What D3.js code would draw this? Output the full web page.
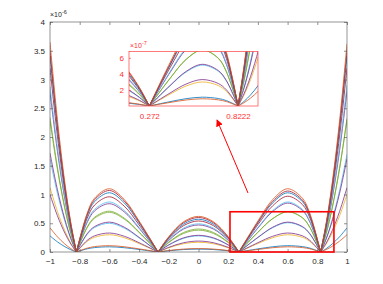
<!DOCTYPE html>
<html>
<head>
<meta charset="utf-8">
<script src="https://cdn.jsdelivr.net/npm/d3@7"></script>
<style>
  body { margin: 0; background: #fff; }
  text { font-family: "Liberation Sans", Arial, sans-serif; }
</style>
</head>
<body>
<div id="chart"></div>
<script>
const width = 383;
const height = 284;

// tick values
const xTicks = [-1, -0.8, -0.6, -0.4, -0.2, 0, 0.2, 0.4, 0.6, 0.8, 1];
const yTicks = [0, 0.5, 1, 1.5, 2, 2.5, 3, 3.5, 4];
const insetYTicks = [2, 4, 6];
const insetXTicks = [0.272, 0.8222];

// curve colours (matlab palette)
const curveColors = ['#0072BD', '#D95319', '#EDB120', '#7E2F8E', '#4DBEEE', '#7E2F8E', '#77AC30',
  '#77AC30', '#7E2F8E', '#4DBEEE', '#A2142F', '#0072BD', '#A2142F', '#D95319'];

// peak values of each curve (x 1e-6)
const leftEnd   = [0.28, 0.42, 1.12, 1.00, 1.62, 1.72, 2.28, 2.34, 2.78, 2.88, 3.20, 3.40, 3.50, 3.65];
const leftHump  = [0.09, 0.11, 0.30, 0.33, 0.50, 0.52, 0.69, 0.71, 0.84, 0.87, 0.96, 1.03, 1.07, 1.10];
const centerHump= [0.05, 0.06, 0.17, 0.19, 0.28, 0.29, 0.38, 0.40, 0.47, 0.49, 0.54, 0.57, 0.60, 0.62];
const rightHump = [0.11, 0.09, 0.30, 0.33, 0.51, 0.52, 0.70, 0.70, 0.85, 0.87, 0.97, 1.03, 1.06, 1.10];
const rightEnd  = [0.42, 0.30, 1.00, 1.12, 1.70, 1.62, 2.32, 2.30, 2.80, 2.90, 3.20, 3.40, 3.50, 3.62];

// shape of each lobe, relative to its peak (top curve)
const endShapeX  = [-1, -0.95, -0.9, -0.86, -0.8222];
const endShapeY  = [1, 0.63, 0.33, 0.14, 0];
const sideShapeX = [-0.8222, -0.75, -0.7, -0.6, -0.5, -0.4, -0.272];
const sideShapeY = [0, 0.61, 0.85, 1, 0.83, 0.49, 0];
const midShapeX  = [-0.272, -0.2, -0.1, 0, 0.1, 0.2, 0.272];
const midShapeY  = [0, 0.43, 0.85, 1, 0.85, 0.43, 0];

// zoom box and arrow
const zoomBox = {x0: 0.212, x1: 0.912, y0: 0, y1: 0.70};

const svg = d3.select("#chart").append("svg")
    .attr("width", width)
    .attr("height", height);

const x = d3.scaleLinear().domain([-1, 1]).range([50, 347]);
const y = d3.scaleLinear().domain([0, 4]).range([252, 22]);

const axisColor = "#4d4d4d";
const textColor = "#262626";

// build lobes of every curve
function lobes(i) {
    const segs = [];
    segs.push(endShapeX.map((v, k) => [v, endShapeY[k] * leftEnd[i]]));
    segs.push(sideShapeX.map((v, k) => [v, sideShapeY[k] * leftHump[i]]));
    segs.push(midShapeX.map((v, k) => [v, midShapeY[k] * centerHump[i]]));
    segs.push(sideShapeX.map((v, k) => [-v, sideShapeY[k] * rightHump[i]]).reverse());
    segs.push(endShapeX.map((v, k) => [-v, endShapeY[k] * rightEnd[i]]).reverse());
    return segs;
}

svg.append("clipPath").attr("id", "mainClip")
    .append("rect")
    .attr("x", 50).attr("y", 22).attr("width", 297).attr("height", 230);

// main curves
const mainLine = d3.line()
    .x(d => x(d[0]))
    .y(d => y(d[1]))
    .curve(d3.curveCatmullRom);

const curves = svg.append("g").attr("clip-path", "url(#mainClip)");
curveColors.forEach((c, i) => {
    curves.selectAll(null)
        .data(lobes(i))
        .join("path")
        .attr("d", mainLine)
        .attr("fill", "none")
        .attr("stroke", c)
        .attr("stroke-width", 0.8);
});

// axes box
svg.append("rect")
    .attr("x", 50).attr("y", 22).attr("width", 297).attr("height", 230)
    .attr("fill", "none").attr("stroke", axisColor).attr("stroke-width", 0.6);

const xAxisB = svg.append("g").attr("transform", "translate(0,252)")
    .call(d3.axisBottom(x).tickValues(xTicks).tickSize(-3).tickPadding(6).tickFormat(d3.format("")));
const xAxisT = svg.append("g").attr("transform", "translate(0,22)")
    .call(d3.axisTop(x).tickValues(xTicks).tickSize(-3).tickFormat(""));
const yAxisL = svg.append("g").attr("transform", "translate(50,0)")
    .call(d3.axisLeft(y).tickValues(yTicks).tickSize(-3).tickPadding(5).tickFormat(d3.format("")));
const yAxisR = svg.append("g").attr("transform", "translate(347,0)")
    .call(d3.axisRight(y).tickValues(yTicks).tickSize(-3).tickFormat(""));

[xAxisB, xAxisT, yAxisL, yAxisR].forEach(a => {
    a.select(".domain").remove();
    a.selectAll("line").attr("stroke", axisColor).attr("stroke-width", 0.6);
    a.selectAll("text").attr("fill", textColor).style("font-size", "8px")
        .style("font-family", "Liberation Sans, Arial, sans-serif");
});

// exponent label
const expo = svg.append("text")
    .attr("x", 50).attr("y", 17)
    .attr("fill", textColor)
    .style("font-size", "7px");
expo.append("tspan").text("×10");
expo.append("tspan").attr("dy", -3).style("font-size", "5.5px").text("-6");

// zoom rectangle
svg.append("rect")
    .attr("x", x(zoomBox.x0))
    .attr("y", y(zoomBox.y1))
    .attr("width", x(zoomBox.x1) - x(zoomBox.x0))
    .attr("height", y(zoomBox.y0) - y(zoomBox.y1))
    .attr("fill", "none")
    .attr("stroke", "#ff0000")
    .attr("stroke-width", 1.6);

// arrow
const red = "#ff0000";
svg.append("defs").append("marker")
    .attr("id", "arrowHead")
    .attr("viewBox", "0 0 10 10")
    .attr("refX", 9).attr("refY", 5)
    .attr("markerWidth", 7).attr("markerHeight", 7)
    .attr("markerUnits", "userSpaceOnUse")
    .attr("orient", "auto")
    .append("path")
    .attr("d", "M0,0 L10,5 L0,10 Z")
    .attr("fill", red);

svg.append("line")
    .attr("x1", 248).attr("y1", 193)
    .attr("x2", 217).attr("y2", 120)
    .attr("stroke", red)
    .attr("stroke-width", 1)
    .attr("marker-end", "url(#arrowHead)");

// inset
const ix = d3.scaleLinear().domain([0.146, 0.946]).range([129, 258]);
const iy = d3.scaleLinear().domain([0, 6.8]).range([106, 51.5]);

svg.append("rect")
    .attr("x", 129).attr("y", 51.5).attr("width", 129).attr("height", 54.5)
    .attr("fill", "#fff");

svg.append("clipPath").attr("id", "insetClip")
    .append("rect")
    .attr("x", 129).attr("y", 51.5).attr("width", 129).attr("height", 54.5);

const insetLine = d3.line()
    .x(d => ix(d[0]))
    .y(d => iy(d[1] * 10))
    .curve(d3.curveCatmullRom);

const insetCurves = svg.append("g").attr("clip-path", "url(#insetClip)");
curveColors.forEach((c, i) => {
    insetCurves.selectAll(null)
        .data(lobes(i))
        .join("path")
        .attr("d", insetLine)
        .attr("fill", "none")
        .attr("stroke", c)
        .attr("stroke-width", 0.8);
});

svg.append("rect")
    .attr("x", 129).attr("y", 51.5).attr("width", 129).attr("height", 54.5)
    .attr("fill", "none").attr("stroke", "#ff4040").attr("stroke-width", 0.7);

const insetX = svg.append("g").attr("transform", "translate(0,106)")
    .call(d3.axisBottom(ix).tickValues(insetXTicks).tickSize(0).tickPadding(7).tickFormat(d => String(d)));
const insetY = svg.append("g").attr("transform", "translate(129,0)")
    .call(d3.axisLeft(iy).tickValues(insetYTicks).tickSize(-2).tickPadding(5).tickFormat(d3.format("")));
[insetX, insetY].forEach(a => {
    a.select(".domain").remove();
    a.selectAll("line").attr("stroke", "#ff4040").attr("stroke-width", 0.6);
    a.selectAll("text").attr("fill", "#ff3030").style("font-size", "8px")
        .style("font-family", "Liberation Sans, Arial, sans-serif");
});

const iexpo = svg.append("text")
    .attr("x", 130).attr("y", 48)
    .attr("fill", "#ff3030")
    .style("font-size", "7px");
iexpo.append("tspan").text("×10");
iexpo.append("tspan").attr("dy", -3).style("font-size", "5.5px").text("-7");
</script>
</body>
</html>
